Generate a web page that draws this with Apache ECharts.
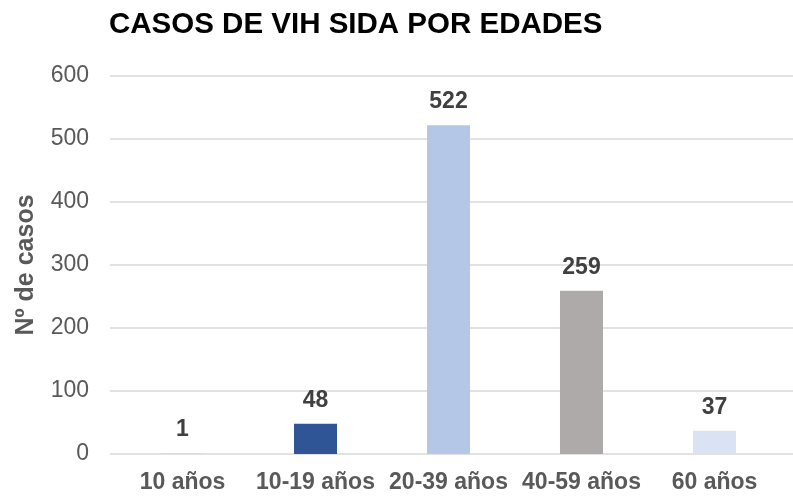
<!DOCTYPE html>
<html>
<head>
<meta charset="utf-8">
<script src="https://cdn.jsdelivr.net/npm/echarts@6/dist/echarts.min.js"></script>
<style>html,body{margin:0;padding:0;background:#fff}#c{width:793px;height:496px}</style>
</head>
<body>
<div id="c"></div>
<script>
const categories = ['10 años', '10-19 años', '20-39 años', '40-59 años', '60 años'];
const values = [1, 48, 522, 259, 37];
const barColors = ['#D9D9D9', '#2F5597', '#B4C7E7', '#AEAAAA', '#DAE3F3'];
const yTicks = [0, 100, 200, 300, 400, 500, 600];
const titleText = 'CASOS DE VIH SIDA POR EDADES';
const yName = 'Nº de casos';

const font = 'Arial, "Liberation Sans", sans-serif';
const chart = echarts.init(document.getElementById('c'));
chart.setOption({
  animation: false,
  title: {
    text: titleText, left: 104, top: 5,
    textStyle: { fontFamily: font, fontSize: 29.5, fontWeight: 'bold', color: '#000' }
  },
  grid: [
    { left: 116, right: 12, top: 76, bottom: 42 },
    { left: 110, right: 0, top: 76, bottom: 42 }
  ],
  xAxis: [
    {
      type: 'category', data: categories, gridIndex: 0,
      axisLine: { show: false }, axisTick: { show: false },
      axisLabel: { fontFamily: font, fontSize: 23, fontWeight: 'bold', color: '#595959', margin: 17, interval: 0 }
    },
    { type: 'value', gridIndex: 1, show: false, min: 0, max: 1 }
  ],
  yAxis: [
    {
      type: 'value', gridIndex: 0, min: yTicks[0], max: yTicks[yTicks.length - 1], interval: 100,
      name: yName, nameLocation: 'middle', nameGap: 77, nameRotate: 90,
      nameTextStyle: { fontFamily: font, fontSize: 25, fontWeight: 'bold', color: '#595959' },
      axisLine: { show: false }, axisTick: { show: false },
      splitLine: { show: false },
      axisLabel: { fontFamily: font, fontSize: 23, color: '#595959', margin: 27 }
    },
    {
      type: 'value', gridIndex: 1, min: yTicks[0], max: yTicks[yTicks.length - 1], interval: 100,
      axisLine: { show: false }, axisTick: { show: false }, axisLabel: { show: false },
      splitLine: { show: true, lineStyle: { color: '#D9D9D9', width: 1.5 } }
    }
  ],
  series: [{
    type: 'bar', xAxisIndex: 0, yAxisIndex: 0,
    data: values.map((v, i) => ({ value: v, itemStyle: { color: barColors[i] } })),
    barWidth: 43,
    z: 3,
    label: {
      show: true, position: 'top', distance: 12,
      fontFamily: font, fontSize: 23, fontWeight: 'bold', color: '#404040'
    }
  }]
});
</script>
</body>
</html>
